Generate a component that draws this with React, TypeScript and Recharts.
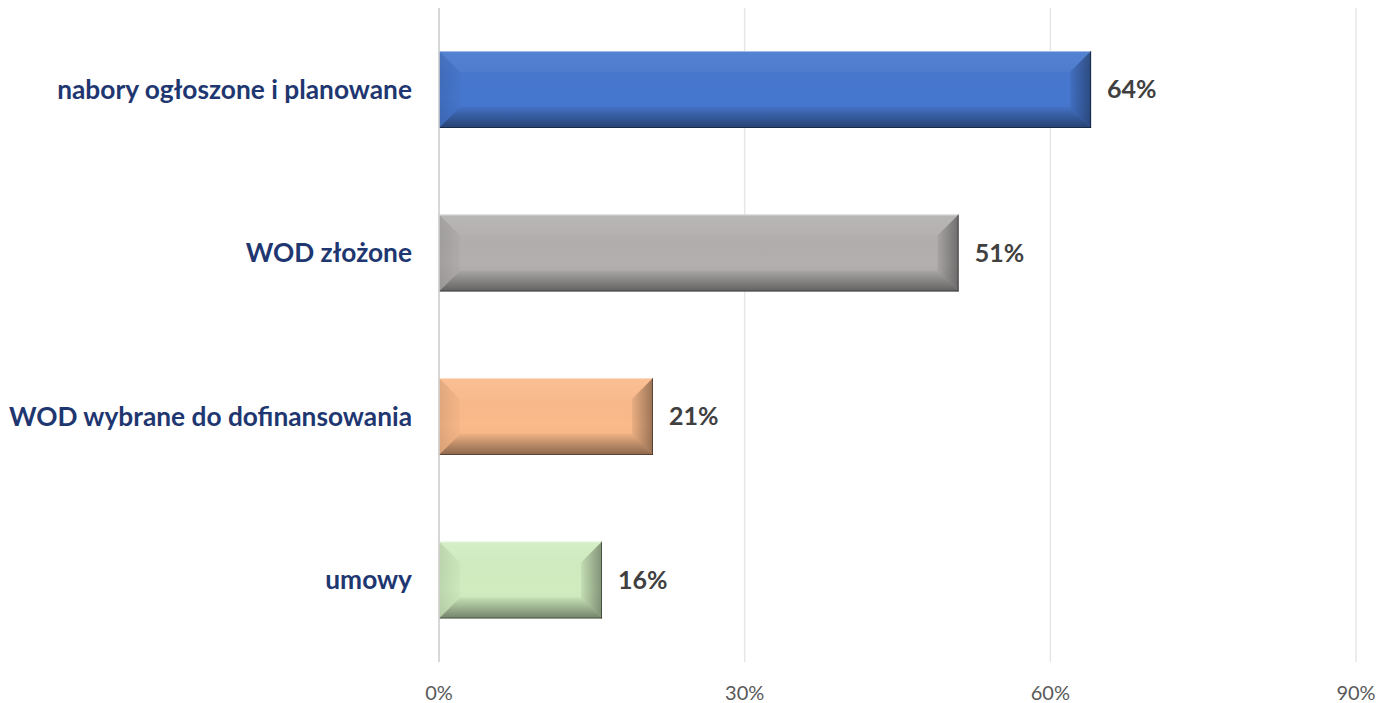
import React from 'react';
import { BarChart, Bar, XAxis, YAxis, CartesianGrid, Cell, LabelList } from 'recharts';

const categories = ['nabory ogłoszone i planowane', 'WOD złożone', 'WOD wybrane do dofinansowania', 'umowy'];
const values = [64, 51, 21, 16];
const colors = ['#4677CF', '#B3AFAF', '#FBBA8A', '#D1EDC0'];
const xTicks = [0, 30, 60, 90];

const data = categories.map((name, i) => ({ name, value: values[i], color: colors[i] }));

const BevelBar = (props: any) => {
  const { x, y, width, height, fill } = props;
  if (!width || width <= 0) return null;
  const b = 21;
  const w = width;
  const h = height;
  const bx = Math.min(b, w / 2);
  return (
    <g>
      <rect x={x} y={y} width={w} height={h} fill={fill} />
      <rect x={x} y={y} width={w} height={h} fill="url(#vshade)" />
      <polygon points={`${x},${y} ${x + w},${y} ${x + w - bx},${y + b} ${x + bx},${y + b}`} fill="#ffffff" fillOpacity={0.04} />
      <polygon points={`${x},${y} ${x + bx},${y + b} ${x + bx},${y + h - b} ${x},${y + h}`} fill="url(#lshade)" />
      <polygon points={`${x + w},${y} ${x + w - bx},${y + b} ${x + w - bx},${y + h - b} ${x + w},${y + h}`} fill="url(#rshade)" />
      <polygon points={`${x},${y + h} ${x + bx},${y + h - b} ${x + w - bx},${y + h - b} ${x + w},${y + h}`} fill="url(#bshade)" />
      <line x1={x} y1={y + 0.5} x2={x + w} y2={y + 0.5} stroke="#ffffff" strokeOpacity={0.45} />
      <line x1={x} y1={y + h - 0.5} x2={x + w} y2={y + h - 0.5} stroke="#000000" strokeOpacity={0.35} />
      <line x1={x + w - 0.5} y1={y} x2={x + w - 0.5} y2={y + h} stroke="#000000" strokeOpacity={0.45} />
    </g>
  );
};

const CatTick = (props: any) => {
  const { x, y, payload } = props;
  return (
    <text x={x} y={y} dy={9} textAnchor="end" fill="#1F3771" fontFamily="Lato" fontWeight="bold" fontSize={26.3}>
      {payload.value}
    </text>
  );
};

export default function App() {
  return (
    <div style={{ position: 'fixed', top: 0, left: 0, width: 1382, height: 703, overflow: 'hidden', background: '#ffffff' }}>
      <BarChart
        width={1382}
        height={703}
        data={data}
        layout="vertical"
        margin={{ top: 8, right: 26, left: 0, bottom: 0 }}
        barSize={77}
        style={{ display: 'block' }}
      >
        <defs>
          <linearGradient id="vshade" x1="0" y1="0" x2="0" y2="1">
            <stop offset="0" stopColor="#ffffff" stopOpacity={0.05} />
            <stop offset="0.6" stopColor="#000000" stopOpacity={0} />
            <stop offset="1" stopColor="#000000" stopOpacity={0.05} />
          </linearGradient>
          <linearGradient id="lshade" x1="0" y1="0" x2="1" y2="0">
            <stop offset="0" stopColor="#000000" stopOpacity={0.1} />
            <stop offset="1" stopColor="#000000" stopOpacity={0.02} />
          </linearGradient>
          <linearGradient id="rshade" x1="0" y1="0" x2="1" y2="0">
            <stop offset="0" stopColor="#000000" stopOpacity={0.06} />
            <stop offset="1" stopColor="#000000" stopOpacity={0.38} />
          </linearGradient>
          <linearGradient id="bshade" x1="0" y1="0" x2="0" y2="1">
            <stop offset="0" stopColor="#000000" stopOpacity={0.04} />
            <stop offset="1" stopColor="#000000" stopOpacity={0.42} />
          </linearGradient>
        </defs>
        <CartesianGrid horizontal={false} stroke="#E6E6E6" strokeWidth={1.5} />
        <XAxis
          type="number"
          domain={[0, 90]}
          ticks={xTicks}
          tickFormatter={(v: number) => `${v}%`}
          axisLine={false}
          tickLine={false}
          height={41}
          tickSize={0}
          tickMargin={24}
          tick={{ fill: '#595959', fontFamily: 'Lato', fontSize: 20 }}
        />
        <YAxis
          type="category"
          dataKey="name"
          width={439}
          axisLine={{ stroke: '#D0D0D0', strokeWidth: 1.5 }}
          tickLine={false}
          tickSize={0}
          tickMargin={27}
          tick={<CatTick />}
        />
        <Bar dataKey="value" shape={<BevelBar />} isAnimationActive={false}>
          {data.map((d, i) => (
            <Cell key={i} fill={d.color} />
          ))}
          <LabelList
            dataKey="value"
            position="right"
            offset={16}
            formatter={(v: any) => `${v}%`}
            fill="#404040"
            fontFamily="Lato"
            fontWeight="bold"
            fontSize={25}
          />
        </Bar>
      </BarChart>
    </div>
  );
}
